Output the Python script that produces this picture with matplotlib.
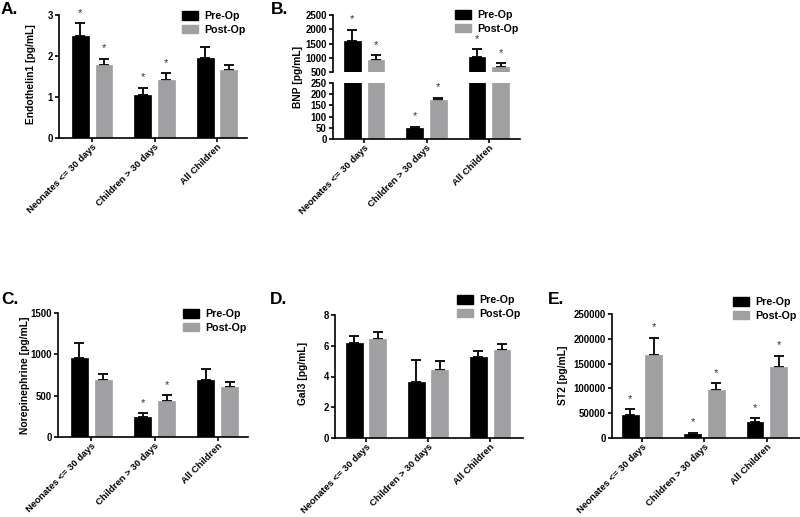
import matplotlib
matplotlib.use("Agg")
import matplotlib.pyplot as plt
import numpy as np
from matplotlib.patches import Patch

plt.rcParams['font.family'] = ['Liberation Sans', 'DejaVu Sans']
plt.rcParams['font.weight'] = 'bold'

groups = ["Neonates <= 30 days", "Children > 30 days", "All Children"]
series = ["Pre-Op", "Post-Op"]

# Panel A: Endothelin1
endo_pre = [2.48, 1.06, 1.96]
endo_pre_err = [0.32, 0.16, 0.25]
endo_post = [1.78, 1.42, 1.67]
endo_post_err = [0.15, 0.16, 0.10]
endo_star_pre = [True, True, False]
endo_star_post = [True, True, False]

# Panel B: BNP (broken axis)
bnp_pre = [1590, 48, 1030]
bnp_pre_err = [390, 7, 270]
bnp_post = [910, 175, 680]
bnp_post_err = [170, 8, 130]
bnp_star_pre = [True, True, True]
bnp_star_post = [True, True, True]

# Panel C: Norepinephrine
ne_pre = [950, 240, 690]
ne_pre_err = [190, 45, 135]
ne_post = [690, 430, 605]
ne_post_err = [70, 75, 60]
ne_star_pre = [False, True, False]
ne_star_post = [False, True, False]

# Panel D: Gal3
gal_pre = [6.2, 3.65, 5.25]
gal_pre_err = [0.42, 1.45, 0.40]
gal_post = [6.45, 4.4, 5.7]
gal_post_err = [0.45, 0.6, 0.42]
gal_star_pre = [False, False, False]
gal_star_post = [False, False, False]

# Panel E: ST2
st2_pre = [46000, 9000, 32000]
st2_pre_err = [12000, 1000, 8000]
st2_post = [168000, 97000, 143000]
st2_post_err = [34000, 13000, 23000]
st2_star_pre = [True, True, True]
st2_star_post = [True, True, True]

BLACK = "#000000"
GRAY = "#a0a0a2"
FS_TICK = 6.9
FS_XTICK = 6.8
FS_LAB = 7.4
FS_LEG = 7.7
W = 0.27
OFF = 0.19

W_PX, H_PX = 800, 517
fig = plt.figure(figsize=(8, 5.17), dpi=100)


def rect(l, r, t, b):
    return [l / W_PX, 1 - b / H_PX, (r - l) / W_PX, (b - t) / H_PX]


def style(ax, xlim, show_x=True):
    ax.set_xlim(*xlim)
    for s in ("top", "right"):
        ax.spines[s].set_visible(False)
    for s in ("left", "bottom"):
        ax.spines[s].set_linewidth(1.2)
    ax.tick_params(axis="y", length=3, width=1.2, labelsize=FS_TICK, pad=1.5)
    ax.tick_params(axis="x", length=3, width=1.2, labelsize=FS_XTICK, pad=0)
    if show_x:
        ax.set_xticks(range(len(groups)))
        ax.set_xticklabels(groups, rotation=45, ha="right", va="top",
                           rotation_mode="anchor", fontweight="bold")
    for lab in ax.get_yticklabels():
        lab.set_fontweight("bold")


def draw_bars(ax, pre, pre_err, post, post_err, star_pre, star_post, star_range=None):
    x = np.arange(len(groups))
    for vals, errs, stars, col, off in ((pre, pre_err, star_pre, BLACK, -OFF),
                                         (post, post_err, star_post, GRAY, OFF)):
        ax.bar(x + off, vals, W, color=col, edgecolor=col, linewidth=0.5, zorder=2)
        ax.errorbar(x + off, vals, yerr=[np.zeros(len(vals)), errs], fmt="none",
                    ecolor="#111111", elinewidth=1.4, capsize=3.6, capthick=1.4, zorder=1)
        for xi, v, e, s in zip(x + off, vals, errs, stars):
            top = v + e
            if not s:
                continue
            if star_range is not None and not (star_range[0] <= top <= star_range[1]):
                continue
            ax.annotate("*", (xi, top), xytext=(0, 4), textcoords="offset points",
                        ha="center", va="bottom", fontsize=8, fontweight="normal",
                        color="#333333", annotation_clip=False)


def add_legend(x_px, y_px):
    handles = [Patch(facecolor=BLACK, edgecolor=BLACK), Patch(facecolor=GRAY, edgecolor=GRAY)]
    fig.legend(handles, series, loc="upper left",
               bbox_to_anchor=(x_px / W_PX, 1 - y_px / H_PX),
               frameon=False, handlelength=1.45, handleheight=0.85,
               handletextpad=0.6, labelspacing=0.35, borderpad=0, borderaxespad=0,
               prop={"weight": "bold", "size": FS_LEG})


def ylabel(text, x_px, y_px):
    fig.text(x_px / W_PX, 1 - y_px / H_PX, text, rotation=90, ha="center", va="center",
             fontsize=FS_LAB, fontweight="bold")


def panel_label(text, x_px, y_px):
    fig.text(x_px / W_PX, 1 - y_px / H_PX, text, ha="left", va="top",
             fontsize=12.5, fontweight="bold")


# ---- A ----
axA = fig.add_axes(rect(59, 247, 15, 138))
draw_bars(axA, endo_pre, endo_pre_err, endo_post, endo_post_err, endo_star_pre, endo_star_post)
axA.set_ylim(0, 3)
axA.set_yticks([0, 1, 2, 3])
style(axA, (-0.53, 2.48))
ylabel("Endothelin1 [pg/mL]", 31, 74)
add_legend(182, 11)
panel_label("A.", 1, 2)

# ---- B (broken axis) ----
axBt = fig.add_axes(rect(333, 520, 15, 72))
axBb = fig.add_axes(rect(333, 520, 83, 139))
draw_bars(axBt, bnp_pre, bnp_pre_err, bnp_post, bnp_post_err, bnp_star_pre, bnp_star_post,
          star_range=(500, 1e9))
draw_bars(axBb, bnp_pre, bnp_pre_err, bnp_post, bnp_post_err, bnp_star_pre, bnp_star_post,
          star_range=(0, 250))
axBt.set_ylim(500, 2500)
axBt.set_yticks([500, 1000, 1500, 2000, 2500])
axBb.set_ylim(0, 250)
axBb.set_yticks([0, 50, 100, 150, 200, 250])
style(axBt, (-0.5, 2.5), show_x=False)
axBt.spines["bottom"].set_visible(False)
axBt.tick_params(axis="x", bottom=False, labelbottom=False)
style(axBb, (-0.5, 2.5))
ylabel("BNP [pg/mL]", 298, 77)
add_legend(455, 10)
panel_label("B.", 271, 2)

# ---- C ----
axC = fig.add_axes(rect(58, 248, 313, 437))
draw_bars(axC, ne_pre, ne_pre_err, ne_post, ne_post_err, ne_star_pre, ne_star_post)
axC.set_ylim(0, 1500)
axC.set_yticks([0, 500, 1000, 1500])
style(axC, (-0.53, 2.48))
ylabel("Norepinephrine [pg/mL]", 25, 375)
add_legend(183, 309)
panel_label("C.", 1, 292)

# ---- D ----
axD = fig.add_axes(rect(335, 523, 315, 438))
draw_bars(axD, gal_pre, gal_pre_err, gal_post, gal_post_err, gal_star_pre, gal_star_post)
axD.set_ylim(0, 8)
axD.set_yticks([0, 2, 4, 6, 8])
style(axD, (-0.5, 2.53))
ylabel("Gal3 [pg/mL]", 303, 373)
add_legend(457, 295)
panel_label("D.", 270, 292)

# ---- E ----
axE = fig.add_axes(rect(612, 800, 314, 438))
draw_bars(axE, st2_pre, st2_pre_err, st2_post, st2_post_err, st2_star_pre, st2_star_post)
axE.set_ylim(0, 250000)
axE.set_yticks([0, 50000, 100000, 150000, 200000, 250000])
axE.yaxis.set_major_formatter(matplotlib.ticker.FormatStrFormatter("%d"))
style(axE, (-0.48, 2.53))
ylabel("ST2 [pg/mL]", 563, 375)
add_legend(733, 297)
panel_label("E.", 548, 292)

fig.savefig("out.png", dpi=100)
